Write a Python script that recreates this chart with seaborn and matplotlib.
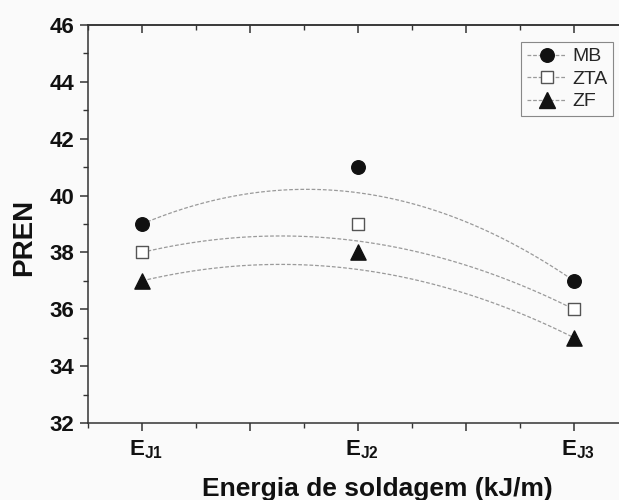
import numpy as np
import pandas as pd
import matplotlib
matplotlib.use("Agg")
import matplotlib.pyplot as plt
import matplotlib.transforms as mtransforms
from matplotlib.lines import Line2D
from matplotlib.ticker import MultipleLocator
import seaborn as sns

# dados
energia = [1, 2, 3]
rotulos_x = [r"$\mathbf{E_{J1}}$", "", r"$\mathbf{E_{J2}}$", "", r"$\mathbf{E_{J3}}$"]
pren_mb = [39, 41, 37]
pren_zta = [38, 39, 36]
pren_zf = [37, 38, 35]

sns.set_style("ticks")
plt.rcParams["font.family"] = ["Liberation Sans", "DejaVu Sans"]
plt.rcParams["mathtext.fontset"] = "custom"
plt.rcParams["mathtext.bf"] = "Liberation Sans:bold"
plt.rcParams["mathtext.rm"] = "Liberation Sans"

fundo = "#fafafa"
fig = plt.figure(figsize=(6.19, 5.0), dpi=100, facecolor=fundo)
ax = fig.add_axes([88 / 619, 77 / 500, 540 / 619, 398 / 500])
ax.set_facecolor(fundo)


def conector(x, y, tensao=1.4):
    # ligação suave tipo B-spline (estilo Origin) entre os três pontos
    t = np.linspace(0, 1, 120)
    meio = (y[0] + y[2]) / 2
    c = meio + tensao * (y[1] - meio)
    xs = (1 - t) ** 2 * x[0] + 2 * t * (1 - t) * x[1] + t ** 2 * x[2]
    ys = (1 - t) ** 2 * y[0] + 2 * t * (1 - t) * c + t ** 2 * y[2]
    return xs, ys


series = [("MB", pren_mb, "o", "#111111", "#111111", 95),
          ("ZTA", pren_zta, "s", "white", "#555555", 80),
          ("ZF", pren_zf, "^", "#111111", "#111111", 120)]

cor_linha = "#9a9a9a"
estilo_linha = (0, (3, 1.5))
for nome, vals, mk, face, borda, tam in series:
    xs, ys = conector(energia, vals)
    sns.lineplot(x=xs, y=ys, sort=False, color=cor_linha, lw=0.9,
                 linestyle=estilo_linha, ax=ax, zorder=2)
    sns.scatterplot(x=energia, y=vals, marker=mk, s=tam, color=face,
                    edgecolor=borda, linewidth=1.0, ax=ax, zorder=3)

ax.set_xlim(0.75, 3.25)
ax.set_ylim(32, 46)
ax.set_xticks([1, 1.5, 2, 2.5, 3])
ax.set_xticklabels(rotulos_x)
ax.xaxis.set_minor_locator(MultipleLocator(0.25))
ax.set_yticks(np.arange(32, 47, 2))
ax.yaxis.set_minor_locator(MultipleLocator(1))

for lado in ["left", "bottom", "top"]:
    ax.spines[lado].set_linewidth(1.1)
    ax.spines[lado].set_color("#333333")
ax.spines["right"].set_visible(False)

ax.tick_params(axis="both", which="major", length=6, width=1.1, color="#333333",
               labelsize=16, labelcolor="#111111", pad=4)
ax.tick_params(axis="x", which="major", pad=5)
ax.tick_params(axis="both", which="minor", length=3.5, width=1.0, color="#333333")
ax.tick_params(axis="x", which="both", top=False, direction="out")
for lbl in ax.get_yticklabels():
    lbl.set_fontweight("bold")
# rótulos E_J levemente deslocados para a direita, como no original
desloc = mtransforms.ScaledTranslation(4 / 100, 0, fig.dpi_scale_trans)
for lbl in ax.get_xticklabels():
    lbl.set_transform(lbl.get_transform() + desloc)

# ticks do topo apontando para dentro
sec = ax.secondary_xaxis("top")
sec.set_xticks([1, 1.5, 2, 2.5, 3])
sec.set_xticklabels([])
sec.xaxis.set_minor_locator(MultipleLocator(0.25))
sec.tick_params(which="major", direction="in", length=6, width=1.1, color="#333333")
sec.tick_params(which="minor", direction="in", length=3.5, width=1.0, color="#333333")
sec.spines["top"].set_linewidth(1.1)
sec.spines["top"].set_color("#333333")

ax.set_ylabel("PREN", fontsize=20, fontweight="bold", color="#111111")
ax.yaxis.set_label_coords(-0.094, 0.465)
ax.set_xlabel("Energia de soldagem (kJ/m)", fontsize=19, fontweight="bold", color="#111111")
ax.xaxis.set_label_coords(0.535, -0.135)

alcas = [Line2D([0], [0], color=cor_linha, lw=0.9, linestyle=estilo_linha,
                marker=mk, markersize=np.sqrt(tam), markerfacecolor=face,
                markeredgecolor=borda)
         for nome, vals, mk, face, borda, tam in series]
leg = ax.legend(alcas, [s[0] for s in series], loc="upper right",
                bbox_to_anchor=(613 / 619, 1 - 42 / 500), bbox_transform=fig.transFigure,
                fontsize=14, frameon=True, fancybox=False, borderaxespad=0,
                borderpad=0.3, handlelength=2.0, handletextpad=0.3, labelspacing=0.25)
leg.get_frame().set_edgecolor("#888888")
leg.get_frame().set_linewidth(0.8)
leg.get_frame().set_facecolor(fundo)
leg.get_frame().set_alpha(1)

fig.savefig("out.png", dpi=100, facecolor=fundo)
